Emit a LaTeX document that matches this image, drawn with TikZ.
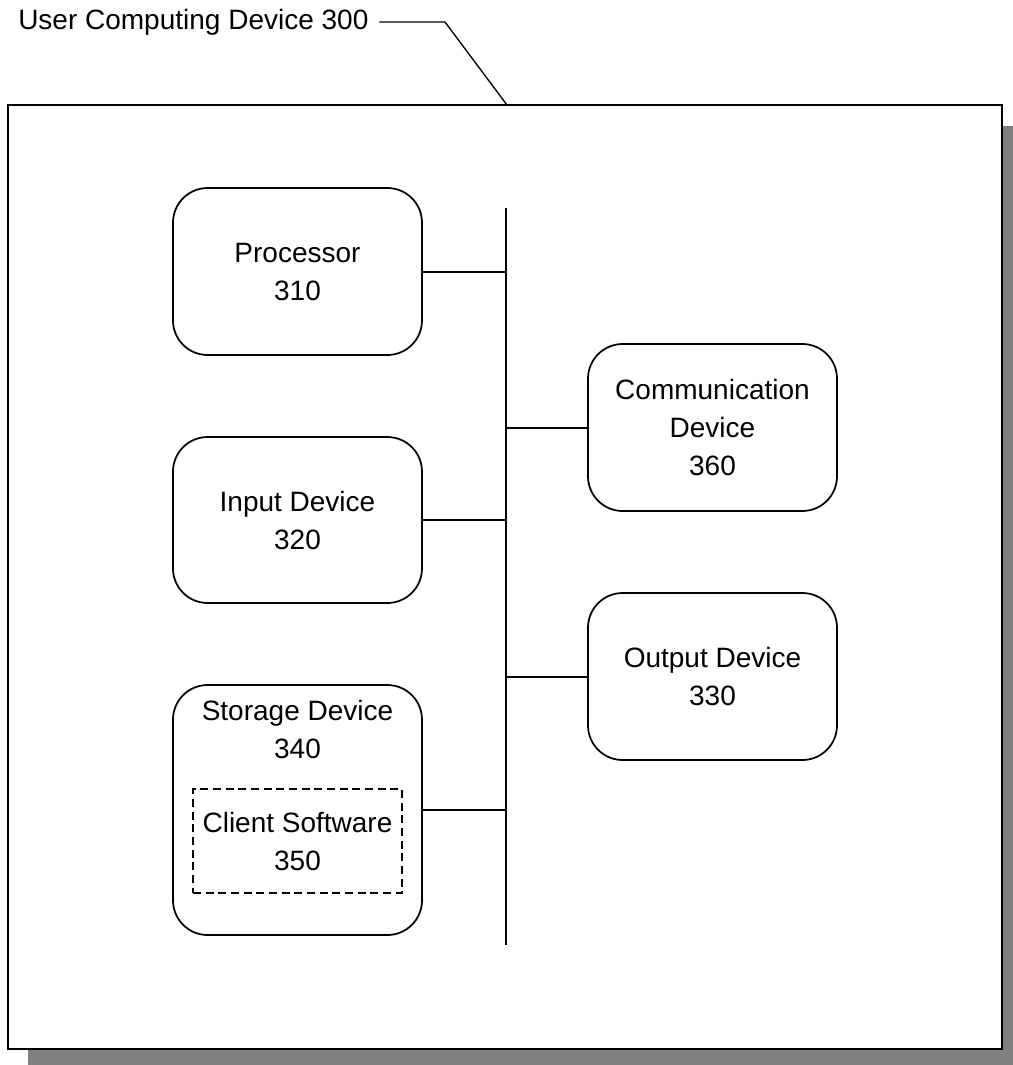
\documentclass[tikz,border=0pt]{standalone}
\usepackage{fontspec}
\setmainfont{Liberation Sans}
\begin{document}
\begin{tikzpicture}[x=0.75pt,y=-0.75pt,
  every node/.style={font=\fontsize{21}{28.5}\selectfont},
  unit/.style={draw=black,line width=1.3pt,rounded corners=26pt,fill=white,minimum width=249*0.75pt,align=center,inner sep=0pt},
  conn/.style={line width=1.5pt},
  busline/.style={line width=2.2pt}]
\useasboundingbox (0,0) rectangle (1013,1065);
% shadow and outer box
\fill[black!50] (28,126) rectangle (1013,1065);
\draw[line width=1.5pt,fill=white] (8,105) rectangle (1002,1049);
\node[anchor=west,inner sep=0pt] (title) at (18,22) {User Computing Device 300};
\coordinate (boxtop) at (507,105);
\draw[line width=1pt] ([xshift=8pt]title.east) -- (445,22) -- (boxtop);
% bus
\coordinate (bt) at (506,208);
\coordinate (bb) at (506,945);
\draw[busline] (bt) -- (bb);
% units
\node[unit,minimum height=167*0.75pt] (proc) at (297.5,271.5) {Processor\\310};
\node[unit,minimum height=166*0.75pt] (inp) at (297.5,520) {Input Device\\320};
\node[unit,minimum height=167*0.75pt] (comm) at (712.5,427.5) {Communication\\Device\\360};
\node[unit,minimum height=167*0.75pt] (outp) at (712.5,676.5) {Output Device\\330};
\node[unit,minimum height=250*0.75pt] (stor) at (297.5,810) {};
\node[align=center,inner sep=0pt,anchor=north] (storlbl) at (297.5,700) {Storage Device\\340};
\node[draw,dash pattern=on 6pt off 3.5pt,line width=1pt,minimum width=209*0.75pt,minimum height=104*0.75pt,align=center,inner sep=0pt] (cs) at (297.5,841) {Client Software\\350};
% connectors
\draw[conn] (proc.east) -- (proc.east -| bt);
\draw[conn] (inp.east) -- (inp.east -| bt);
\draw[conn] (stor.east) -- (stor.east -| bt);
\draw[conn] (comm.west) -- (comm.west -| bt);
\draw[conn] (outp.west) -- (outp.west -| bt);
\end{tikzpicture}
\end{document}
